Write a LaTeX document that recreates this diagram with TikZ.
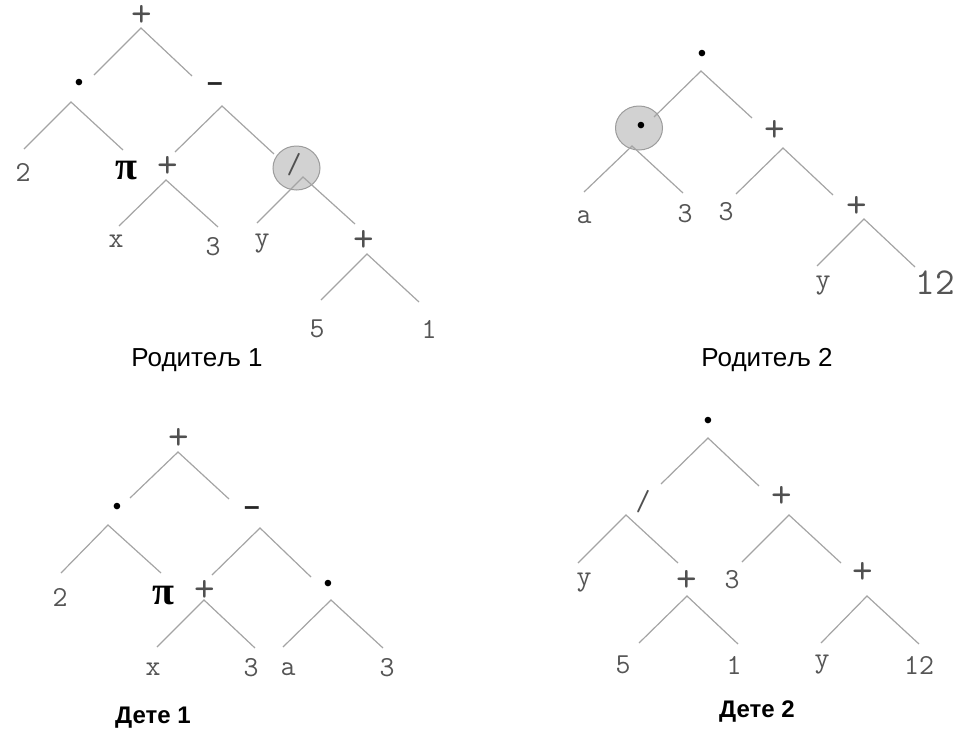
\documentclass[tikz,border=0pt]{standalone}
\usepackage{fontspec}
\setmainfont{Liberation Sans}
\newfontfamily\seriff{Liberation Serif}
\usetikzlibrary{shapes.geometric}
\definecolor{edgegray}{HTML}{A4A4A4}
\definecolor{leafgray}{HTML}{555555}
\definecolor{opgray}{HTML}{505050}
\definecolor{circfill}{HTML}{D2D2D2}
\definecolor{circline}{HTML}{9C9C9C}
\tikzset{
  edge/.style={draw=edgegray, line width=1.2pt},
  leaf/.style={font=\ttfamily\fontsize{29}{29}\selectfont, text=leafgray, inner sep=0pt},
  bigleaf/.style={font=\ttfamily\fontsize{38}{38}\selectfont, text=leafgray, inner sep=0pt},
  opplus/.style={font=\ttfamily\fontsize{40}{40}\selectfont, text=opgray, inner sep=0pt},
  opslash/.style={font=\ttfamily\fontsize{29}{29}\selectfont, text=opgray, inner sep=0pt},
  opdot/.style={font=\fontsize{24}{24}\selectfont, text=black, inner sep=0pt},
  opminus/.style={font=\bfseries\fontsize{28}{28}\selectfont, text=black!85, inner sep=0pt},
  pinode/.style={font=\seriff\bfseries\fontsize{40}{40}\selectfont, text=black, inner sep=0pt},
  highlight/.style={ellipse, draw=circline, fill=circfill, line width=1pt, minimum width=47pt, minimum height=44pt, inner sep=0pt},
  caption/.style={font=\fontsize{26}{26}\selectfont, text=black, inner sep=0pt},
  captionb/.style={font=\bfseries\fontsize{24}{24}\selectfont, text=black, inner sep=0pt},
}
\newcommand{\branch}[4]{%
  \coordinate (#1) at (#2);
  \coordinate (#1l) at (#3);
  \coordinate (#1r) at (#4);
  \draw[edge] (#1l) -- (#1) -- (#1r);
}
\begin{document}
\begin{tikzpicture}[x=1pt,y=-1pt]
\useasboundingbox (0,0) rectangle (975,750);

% ---------- highlight circles ----------
\node[highlight] (c1) at (296.5,168) {};
\node[highlight] (c2) at (639,128) {};

% ---------- Tree 1 : Parent 1 ----------
\branch{A1}{141,28}{94,75}{192,76}
\branch{A2}{71,102}{24,149}{123,150}
\branch{A3}{222,106}{175,152}{274,154}
\branch{A4}{166,180}{119,226}{218,227}
\branch{A5}{303,177}{257,223}{355,224}
\branch{A6}{367,254}{321,300}{419,302}
\node[opplus] (p1root) at (142,16) {+};
\node[opdot] (p1dot) at (79,85) {•};
\node[opminus] (p1minus) at (215,87) {–};
\node[leaf] (p1two) at (23,172) {2};
\node[pinode] (p1pi) at (126,171) {π};
\node[opplus] (p1plusa) at (168,167) {+};
\node[opslash] (p1slash) at (294,165) {/};
\node[leaf] (p1x) at (116,241) {x};
\node[leaf] (p1three) at (213,247) {3};
\node[leaf] (p1y) at (262,244) {y};
\node[opplus] (p1plusb) at (364,241) {+};
\node[leaf] (p1five) at (317,329) {5};
\node[leaf] (p1one) at (429,329) {1};
\node[caption] (cap1) at (197,360) {Родитељ 1};

% ---------- Tree 2 : Parent 2 ----------
\branch{B1}{701,71}{654,117}{752,118}
\branch{B2}{632,146}{584,192}{683,193}
\branch{B3}{783,148}{736,194}{833,195}
\branch{B4}{864,219}{817,266}{915,267}
\node[opdot] (p2root) at (702,56) {•};
\node[opdot] (p2dot) at (641,128) {•};
\node[opplus] (p2plusa) at (775,131) {+};
\node[leaf] (p2a) at (584,217) {a};
\node[leaf] (p2three) at (685,214) {3};
\node[leaf] (p2threeb) at (726,212) {3};
\node[opplus] (p2plusb) at (857,207) {+};
\node[leaf] (p2y) at (823,286) {y};
\node[bigleaf] (p2twelve) at (935,283) {12};
\node[caption] (cap2) at (767,360) {Родитељ 2};

% ---------- Tree 3 : Child 1 ----------
\branch{C1}{178,452}{130,498}{229,499}
\branch{C2}{108,525}{61,573}{161,573}
\branch{C3}{260,528}{212,575}{311,577}
\branch{C4}{204,600}{157,647}{255,648}
\branch{C5}{331,600}{283,647}{383,648}
\node[opplus] (d1root) at (179,439) {+};
\node[opdot] (d1dot) at (117,509) {•};
\node[opminus] (d1minus) at (252,511) {–};
\node[leaf] (d1two) at (60,597) {2};
\node[pinode] (d1pi) at (163,596) {π};
\node[opplus] (d1plus) at (205,591) {+};
\node[opdot] (d1dotb) at (328,586) {•};
\node[leaf] (d1x) at (153,669) {x};
\node[leaf] (d1three) at (251,668) {3};
\node[leaf] (d1a) at (288,669) {a};
\node[leaf] (d1threeb) at (387,668) {3};
\node[captionb] (cap3) at (153,718) {Дете 1};

% ---------- Tree 4 : Child 2 ----------
\branch{D1}{708,438}{661,484}{759,486}
\branch{D2}{626,515}{578,563}{678,563}
\branch{D3}{789,515}{742,562}{841,563}
\branch{D4}{687,596}{639,643}{738,644}
\branch{D5}{867,596}{821,643}{919,644}
\node[opdot] (d2root) at (708,423) {•};
\node[opslash] (d2slash) at (643,502) {/};
\node[opplus] (d2plusa) at (782,497) {+};
\node[leaf] (d2y) at (584,583) {y};
\node[opplus] (d2plusb) at (687,581) {+};
\node[leaf] (d2three) at (732,580) {3};
\node[opplus] (d2plusc) at (863,573) {+};
\node[leaf] (d2five) at (623,665) {5};
\node[leaf] (d2one) at (734,665) {1};
\node[leaf] (d2y2) at (822,665) {y};
\node[leaf] (d2twelve) at (919,665) {12};
\node[captionb] (cap4) at (757,712) {Дете 2};
\end{tikzpicture}
\end{document}
